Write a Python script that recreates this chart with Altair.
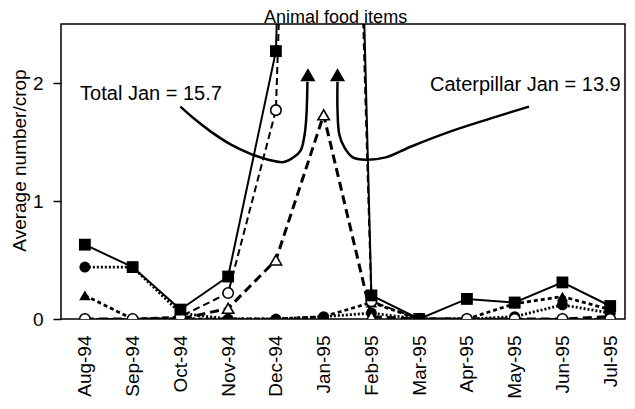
import altair as alt
import pandas as pd

FONT = "Liberation Sans"

# ---- data ----
months = ["Aug-94", "Sep-94", "Oct-94", "Nov-94", "Dec-94", "Jan-95",
          "Feb-95", "Mar-95", "Apr-95", "May-95", "Jun-95", "Jul-95"]
month_idx = list(range(len(months)))

total_items = [0.63, 0.44, 0.08, 0.36, 2.27, 15.7, 0.20, 0.0, 0.17, 0.14, 0.31, 0.11]   # filled square, solid
caterpillar = [0.0, 0.0, 0.02, 0.22, 1.77, 13.9, 0.15, 0.0, 0.0, 0.0, 0.0, 0.0]        # open circle, dashed
open_tri_vals = [0.0, 0.0, 0.0, 0.09, 0.50, 1.73, 0.02, 0.0, 0.0, 0.0, 0.0, 0.02]      # open triangle, long dash
filled_circ_vals = [0.44, 0.44, 0.05, 0.0, 0.0, 0.02, 0.05, 0.0, 0.0, 0.02, 0.12, 0.05] # filled circle, dotted
filled_tri_vals = [0.20, 0.0, 0.0, 0.0, 0.0, 0.02, 0.14, 0.0, 0.0, 0.13, 0.19, 0.08]    # filled triangle, dotted

y_ticks = [0, 1, 2]

# annotation curves (data units: month index, average number/crop)
left_arrow_x = [2.00, 2.31, 2.63, 3.05, 3.47, 3.84, 4.16, 4.37, 4.52, 4.60, 4.64, 4.66]
left_arrow_y = [1.80, 1.69, 1.59, 1.48, 1.40, 1.35, 1.33, 1.37, 1.43, 1.56, 1.73, 2.01]
right_arrow_x = [5.29, 5.29, 5.33, 5.44, 5.61, 5.88, 6.30, 6.82, 7.66, 8.50, 9.30]
right_arrow_y = [2.01, 1.77, 1.56, 1.45, 1.37, 1.35, 1.37, 1.46, 1.59, 1.70, 1.80]
arrow_head_x = [4.67, 5.29]
arrow_head_y = [2.07, 2.07]

ann_left_text = ["Total Jan = 15.7"]
ann_left_x = [-0.10]
ann_left_y = [1.86]
ann_right_text = ["Caterpillar Jan = 13.9"]
ann_right_x = [11.22]
ann_right_y = [1.93]

chart_title = ["Animal food items"]
title_x = [5.25]
title_y = [2.63]

# ---- encodings ----
label_expr = "[" + ",".join("'%s'" % m for m in months) + "][datum.value]"

x_enc = alt.X("x:Q",
              scale=alt.Scale(domain=[-0.5, 11.31], nice=False, zero=False),
              axis=alt.Axis(values=month_idx, labelExpr=label_expr, labelAngle=-90,
                            ticks=False, domain=False, grid=False, labelPadding=16,
                            labelFontSize=19, title=None))
y_enc = alt.Y("y:Q",
              scale=alt.Scale(domain=[0, 2.5], nice=False),
              axis=alt.Axis(values=y_ticks, tickSize=8, labelPadding=10, labelFontSize=19,
                            domain=False, grid=False, title="Average number/crop",
                            titleFontSize=19, titleFontWeight="normal",
                            titleX=-42, titleY=136, titleBaseline="middle",
                            titleAlign="center"))


def series_df(vals):
    return pd.DataFrame({"x": month_idx, "y": vals})


line_specs = [
    (filled_tri_vals, [4, 3], 2.8),
    (filled_circ_vals, [2, 2], 2.8),
    (open_tri_vals, [9, 5], 3.0),
    (caterpillar, [7, 4], 2.0),
    (total_items, None, 2.0),
]

layers = []
for vals, dash, w in line_specs:
    kw = dict(clip=True, color="black", strokeWidth=w)
    if dash:
        kw["strokeDash"] = dash
    layers.append(alt.Chart(series_df(vals)).mark_line(**kw).encode(x=x_enc, y=y_enc))

point_specs = [
    (filled_tri_vals, "triangle-up", True, 130),
    (filled_circ_vals, "circle", True, 120),
    (open_tri_vals, "triangle-up", False, 130),
    (caterpillar, "circle", False, 110),
    (total_items, "square", True, 140),
]
for vals, shape, filled, size in point_specs:
    if filled:
        mk = alt.Chart(series_df(vals)).mark_point(
            clip=True, shape=shape, filled=True, size=size, color="black", opacity=1)
    else:
        mk = alt.Chart(series_df(vals)).mark_point(
            clip=True, shape=shape, filled=True, size=size, fill="white",
            stroke="black", strokeWidth=1.6, opacity=1)
    layers.append(mk.encode(x=x_enc, y=y_enc))

# annotation arrows
for ax_, ay_ in [(left_arrow_x, left_arrow_y), (right_arrow_x, right_arrow_y)]:
    df = pd.DataFrame({"x": ax_, "y": ay_, "i": range(len(ax_))})
    layers.append(alt.Chart(df).mark_line(interpolate="catmull-rom", color="black",
                                          strokeWidth=2.5)
                  .encode(x=x_enc, y=y_enc, order="i:Q"))

heads = pd.DataFrame({"x": arrow_head_x, "y": arrow_head_y})
layers.append(alt.Chart(heads).mark_point(shape="triangle-up", filled=True, size=230,
                                          color="black", opacity=1)
              .encode(x=x_enc, y=y_enc))

tl = pd.DataFrame({"x": ann_left_x, "y": ann_left_y, "t": ann_left_text})
layers.append(alt.Chart(tl).mark_text(font=FONT, fontSize=20, align="left",
                                      baseline="alphabetic", color="black")
              .encode(x=x_enc, y=y_enc, text="t:N"))
tr = pd.DataFrame({"x": ann_right_x, "y": ann_right_y, "t": ann_right_text})
layers.append(alt.Chart(tr).mark_text(font=FONT, fontSize=20, align="right",
                                      baseline="alphabetic", color="black")
              .encode(x=x_enc, y=y_enc, text="t:N"))
tt = pd.DataFrame({"x": title_x, "y": title_y, "t": chart_title})
layers.append(alt.Chart(tt).mark_text(font=FONT, fontSize=18, align="center",
                                      baseline="top", color="black")
              .encode(x=x_enc, y=y_enc, text="t:N"))

chart = (
    alt.layer(*layers)
    .properties(
        width=564, height=295,
        autosize=alt.AutoSizeParams(type="none"),
        padding={"left": 53, "top": 16, "right": 2, "bottom": 82},
    )
    .configure_view(stroke="black", strokeWidth=1.5)
    .configure_axis(labelFont=FONT, titleFont=FONT, labelColor="black",
                    titleColor="black", tickColor="black", tickWidth=1.5)
)

chart.save("out.html", embed_options={"renderer": "svg", "actions": False})
